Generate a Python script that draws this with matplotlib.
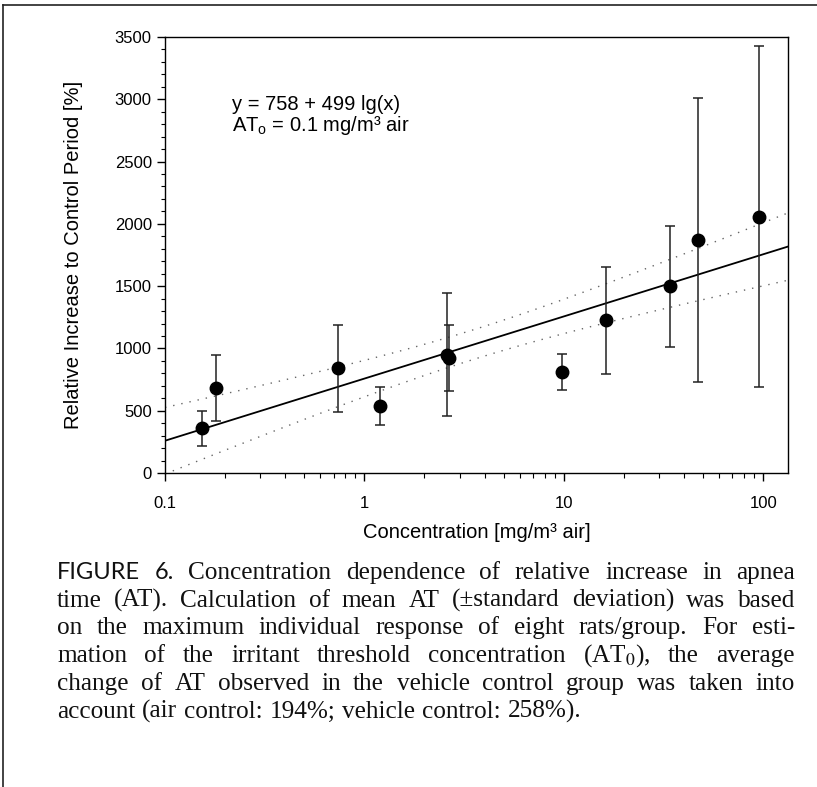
import numpy as np
import matplotlib
matplotlib.use("Agg")
import matplotlib.pyplot as plt
from matplotlib.lines import Line2D
from matplotlib.ticker import FixedLocator, FixedFormatter, NullFormatter, LogLocator, MultipleLocator

# ---------------- data ----------------
conc = [0.153, 0.181, 0.739, 1.2, 2.59, 2.66, 9.8, 16.2, 34, 47, 95.5]
mean_rel = [358, 683, 839, 539, 951, 927, 809, 1226, 1498, 1867, 2059]
sd_rel = [141, 265, 352, 150, 490, 265, 143, 430, 485, 1140, 1370]

fit_intercept = 758
fit_slope = 499
# dotted confidence band: half-width read at the axis start and at its narrowest point
band_conc = [0.1, 3.55]
band_halfwidth = [267, 119]

x_ticks = [0.1, 1, 10, 100]
x_ticklabels = ["0.1", "1", "10", "100"]
y_ticks = [0, 500, 1000, 1500, 2000, 2500, 3000, 3500]
y_ticklabels = ["0", "500", "1000", "1500", "2000", "2500", "3000", "3500"]

x_label = "Concentration [mg/m³ air]"
y_label = "Relative Increase to Control Period [%]"
eq_lines = ["y = 758 + 499 lg(x)", r"AT$_\mathrm{o}$ = 0.1 mg/m³ air"]

caption_lines = [
    "FIGURE 6. Concentration dependence of relative increase in apnea",
    "time (AT). Calculation of mean AT (±standard deviation) was based",
    "on the maximum individual response of eight rats/group. For esti-",
    r"mation of the irritant threshold concentration (AT$_\mathrm{0}$), the average",
    "change of AT observed in the vehicle control group was taken into",
    "account (air control: 194%; vehicle control: 258%).",
]

# ---------------- style ----------------
plt.rcParams['font.family'] = ['Liberation Sans', 'DejaVu Sans']
plt.rcParams['mathtext.fontset'] = 'custom'
plt.rcParams['mathtext.rm'] = 'Liberation Sans'
plt.rcParams['mathtext.it'] = 'Liberation Sans:italic'

W, H = 817, 787
fig = plt.figure(figsize=(W / 100, H / 100), dpi=100)
fig.patch.set_facecolor('white')

def fx(px):
    return px / W

def fy(py):
    return 1 - py / H

ax = fig.add_axes([fx(165), fy(473), fx(788) - fx(165), fy(37) - fy(473)])
ax.set_xscale('log')
ax.set_xlim(0.1, 133)
ax.set_ylim(0, 3500)

xs = np.logspace(-1, np.log10(133), 400)
u = np.log10(xs)
fit = fit_intercept + fit_slope * u
u0 = np.log10(band_conc[1])
hw0 = band_halfwidth[1]
B = (band_halfwidth[0] ** 2 - hw0 ** 2) / (np.log10(band_conc[0]) - u0) ** 2
hw = np.sqrt(hw0 ** 2 + B * (u - u0) ** 2)

ax.plot(xs, fit, color='black', lw=1.3, zorder=2)
ax.plot(xs, fit + hw, color='#666666', lw=1.0, ls=(0, (1, 5)), zorder=2)
ax.plot(xs, fit - hw, color='#666666', lw=1.0, ls=(0, (1, 5)), zorder=2)

ax.errorbar(conc, mean_rel, yerr=sd_rel, fmt='o', color='black', ms=9,
            ecolor='#222222', elinewidth=1.1, capsize=3.5, capthick=1.1, zorder=3)

for s in ax.spines.values():
    s.set_linewidth(1.0)
    s.set_color('black')

ax.xaxis.set_major_locator(FixedLocator(x_ticks))
ax.xaxis.set_major_formatter(FixedFormatter(x_ticklabels))
ax.xaxis.set_minor_locator(LogLocator(base=10, subs=np.arange(2, 10)))
ax.xaxis.set_minor_formatter(NullFormatter())
ax.yaxis.set_major_locator(FixedLocator(y_ticks))
ax.yaxis.set_major_formatter(FixedFormatter(y_ticklabels))
ax.yaxis.set_minor_locator(MultipleLocator(100))

ax.tick_params(axis='both', which='both', direction='out', top=False, right=False, color='black')
ax.tick_params(axis='x', which='major', length=5.5, width=1, pad=11, labelsize=12)
ax.tick_params(axis='x', which='minor', length=3.5, width=0.8)
ax.tick_params(axis='y', which='major', length=6, width=1, pad=3.5, labelsize=12)
ax.tick_params(axis='y', which='minor', length=3, width=0.8)

fig.text(fx(477), fy(532), x_label, ha='center', va='center', fontsize=14.5)
fig.text(fx(74), fy(255), y_label, ha='center', va='center', rotation=90, fontsize=14.5)

fig.text(fx(232), fy(110), eq_lines[0], ha='left', va='baseline', fontsize=14.5)
fig.text(fx(232), fy(131), eq_lines[1], ha='left', va='baseline', fontsize=14.5)

# frame around the figure (left and top edges visible)
fig.add_artist(Line2D([fx(3), fx(3)], [0, fy(5)], transform=fig.transFigure, color='#222222', lw=1.2))
fig.add_artist(Line2D([fx(3), 1], [fy(5), fy(5)], transform=fig.transFigure, color='#222222', lw=1.2))

# ---------------- justified caption ----------------
renderer = fig.canvas.get_renderer()
serif = ['Liberation Serif', 'DejaVu Serif']
sans_cap = ['Lato', 'DejaVu Sans']
cap_left, cap_right = 57, 795
baselines = [579, 607, 634, 662, 690, 718]
cap_size = 18.2
head_size = 17

def make_words(line):
    words = line.split(' ')
    arts = []
    for i, w in enumerate(words):
        head = line.startswith('FIGURE') and i < 2
        t = fig.text(0, 0, w, fontsize=head_size if head else cap_size,
                     family=sans_cap if head else serif, math_fontfamily='stix',
                     ha='left', va='baseline', color='#111111')
        arts.append(t)
    return arts

for li, line in enumerate(caption_lines):
    arts = make_words(line)
    ws = [a.get_window_extent(renderer).width for a in arts]
    if li < len(caption_lines) - 1 and len(arts) > 1:
        gap = (cap_right - cap_left - sum(ws)) / (len(arts) - 1)
    else:
        gap = 0.27 * cap_size * 100 / 72
    x = cap_left
    for a, w in zip(arts, ws):
        a.set_position((fx(x), fy(baselines[li])))
        x += w + gap

fig.savefig('out.png', dpi=100, facecolor='white')
